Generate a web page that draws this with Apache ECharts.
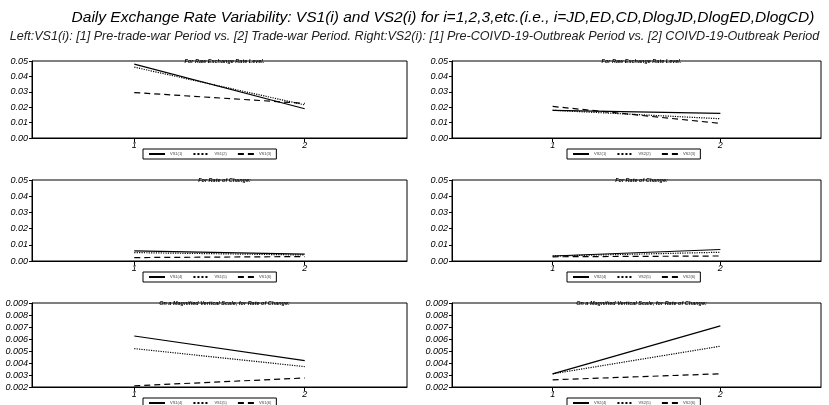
<!DOCTYPE html>
<html>
<head>
<meta charset="utf-8">
<script src="https://cdn.jsdelivr.net/npm/echarts@6/dist/echarts.min.js"></script>
<style>
  html, body { margin: 0; padding: 0; background: #fff; }
  #main { width: 829px; height: 405px; }
</style>
</head>
<body>
<div id="main"></div>
<script>
// periods on the x axis
var periods = [1, 2];

// left column: VS1, right column: VS2 ; i = 1..3 raw levels, 4..6 rates of change
var vs1Raw = { 1: [0.048, 0.019], 2: [0.046, 0.0215], 3: [0.0295, 0.0225] };
var vs2Raw = { 1: [0.018, 0.016], 2: [0.018, 0.0125], 3: [0.0205, 0.0095] };
var vs1Rate = { 4: [0.00625, 0.0042], 5: [0.0052, 0.0037], 6: [0.0021, 0.00275] };
var vs2Rate = { 4: [0.0031, 0.0071], 5: [0.0031, 0.0054], 6: [0.0026, 0.0031] };

var panelTitles = ['For Raw Exchange Rate Level.', 'For Rate of Change:', 'On a Magnified Vertical Scale, for Rate of Change:'];

var chart = echarts.init(document.getElementById('main'));

var rows = [
  { top: 61, height: 77, min: 0, max: 0.05, interval: 0.01, dec: 2, data: [vs1Raw, vs2Raw] },
  { top: 180, height: 81, min: 0, max: 0.05, interval: 0.01, dec: 2, data: [vs1Rate, vs2Rate] },
  { top: 303, height: 84, min: 0.002, max: 0.009, interval: 0.001, dec: 3, data: [vs1Rate, vs2Rate] }
];
var cols = [
  { left: 32, width: 375, pre: 'VS1', legendLeft: 143 },
  { left: 452, width: 369, pre: 'VS2', legendLeft: 567 }
];
var styles = ['solid', 'dotted', [6, 4]];

var grids = [], xAxes = [], yAxes = [], series = [], legends = [], titles = [];
var font = 'Liberation Sans';

titles.push({
  text: 'Daily Exchange Rate Variability: VS1(i) and VS2(i) for i=1,2,3,etc.(i.e., i=JD,ED,CD,DlogJD,DlogED,DlogCD)',
  left: 438, top: 5, textAlign: 'center',
  textStyle: { fontFamily: font, fontStyle: 'italic', fontWeight: 'normal', fontSize: 15.5, color: '#000' }
});
titles.push({
  text: 'Left:VS1(i): [1] Pre-trade-war Period vs. [2] Trade-war Period. Right:VS2(i): [1] Pre-COIVD-19-Outbreak Period vs. [2] COIVD-19-Outbreak Period',
  left: 'center', top: 25,
  textStyle: { fontFamily: font, fontStyle: 'italic', fontWeight: 'normal', fontSize: 12.6, color: '#222' }
});

rows.forEach(function (r, ri) {
  cols.forEach(function (c, ci) {
    var gi = grids.length;
    grids.push({ left: c.left, width: c.width, top: r.top, height: r.height, show: true, borderColor: '#000', borderWidth: 1, backgroundColor: 'transparent' });
    xAxes.push({
      gridIndex: gi, type: 'value', min: 0.4, max: 2.6,
      axisLine: { show: true, onZero: false, lineStyle: { color: '#000', width: 1 } },
      axisTick: { show: true, length: 4, customValues: periods, lineStyle: { color: '#000' } },
      axisLabel: { customValues: periods, fontFamily: font, fontStyle: 'italic', fontSize: 9, color: '#000', margin: 3 },
      splitLine: { show: false }
    });
    yAxes.push({
      gridIndex: gi, type: 'value', min: r.min, max: r.max, interval: r.interval,
      axisLine: { show: true, lineStyle: { color: '#000', width: 1 } },
      axisTick: { show: true, length: 3, lineStyle: { color: '#000' } },
      axisLabel: { fontFamily: font, fontStyle: 'italic', fontSize: 9, color: '#000', margin: 4,
        formatter: (function (d) { return function (v) { return v.toFixed(d); }; })(r.dec) },
      splitLine: { show: false }
    });
    titles.push({
      text: panelTitles[ri], left: c.left + c.width / 2, top: r.top - 8, textAlign: 'center',
      textStyle: { fontFamily: font, fontStyle: 'italic', fontWeight: 'bold', fontSize: 5.5, color: '#000' }
    });
    var names = [];
    Object.keys(r.data[ci]).forEach(function (k, si) {
      var name = c.pre + '(' + k + ')';
      names.push(name);
      series.push({
        name: name, type: 'line', xAxisIndex: gi, yAxisIndex: gi,
        data: periods.map(function (p, pi) { return [p, r.data[ci][k][pi]]; }),
        symbol: 'none', silent: true, color: '#000',
        itemStyle: { color: '#000' },
        lineStyle: { color: '#000', width: 1.2, type: styles[si] }
      });
    });
    legends.push({
      data: names, left: c.legendLeft, top: r.top + r.height + 11,
      orient: 'horizontal', itemWidth: 16, itemHeight: 4, itemGap: 10,
      borderColor: '#000', borderWidth: 1, padding: [3, 5], selectedMode: false,
      itemStyle: { opacity: 0 },
      textStyle: { fontFamily: font, fontSize: 4, color: '#444' }
    });
  });
});

chart.setOption({
  animation: false,
  title: titles,
  grid: grids,
  xAxis: xAxes,
  yAxis: yAxes,
  legend: legends,
  series: series
});
</script>
</body>
</html>
